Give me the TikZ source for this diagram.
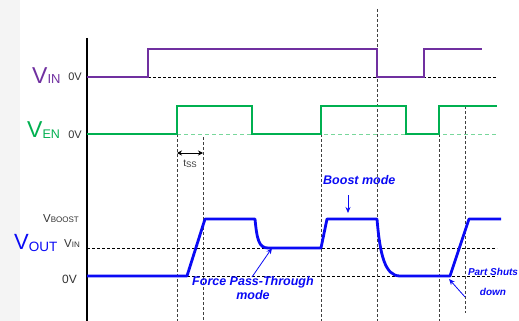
\documentclass[tikz,border=0pt]{standalone}
\usepackage{fontspec}
\setmainfont{Liberation Sans}
\usetikzlibrary{arrows.meta}
\definecolor{vinc}{RGB}{112,48,160}
\definecolor{venc}{RGB}{0,176,80}
\definecolor{venl}{RGB}{120,215,155}
\definecolor{voutc}{RGB}{10,10,245}
\definecolor{txtg}{RGB}{51,51,51}
\definecolor{bgg}{RGB}{244,244,244}
\newcommand{\fsz}[2]{{\fontsize{#1}{#1}\selectfont #2}}
\begin{document}
\begin{tikzpicture}[x=1pt,y=-1pt,
  axisline/.style={line width=2pt,black},
  vinwave/.style={line width=2pt,vinc},
  venwave/.style={line width=2.4pt,venc},
  voutwave/.style={line width=2.8pt,voutc,line join=round},
  hguide/.style={line width=0.8pt,black,dash pattern=on 3pt off 2pt},
  vguide/.style={line width=0.8pt,black!75,dash pattern=on 3pt off 2pt},
  lguide/.style={line width=1pt,venl,dash pattern=on 4pt off 3pt},
  lbl/.style={inner sep=0pt,text=txtg},
  modelbl/.style={inner sep=0pt,text=voutc,font=\fontsize{12.5}{14}\selectfont\bfseries\itshape,align=center},
  callout/.style={line width=0.8pt,voutc,-{Stealth[length=6pt,width=5pt]}}
]
\useasboundingbox (0,0) rectangle (519,321);
\fill[white] (0,0) rectangle (519,321);
\fill[bgg] (0,0) rectangle (20,321);

% guides
\draw[hguide] (148,77) -- (497,77);
\draw[lguide] (177,134) -- (497,134);
\draw[hguide] (87,248) -- (497,248);
\draw[hguide] (87,276) -- (497,276);
\draw[vguide] (177,134) -- (177,321);
\draw[vguide] (203,137) -- (203,321);
\draw[vguide] (321,134) -- (321,321);
\draw[vguide] (377,9) -- (377,321);
\draw[vguide] (439,134) -- (439,321);
\draw[vguide] (465,106) -- (465,313);

% axis
\draw[axisline] (87,38) -- (87,321);

% waveforms
\draw[vinwave] (87,77) -- (148,77) -- (148,49) -- (377,49) -- (377,77) -- (424,77) -- (424,49) -- (482,49);
\draw[venwave] (87,134) -- (177,134) -- (177,106) -- (252,106) -- (252,134) -- (321,134) -- (321,106) -- (406,106) -- (406,134) -- (439,134) -- (439,106) -- (497,106);
\draw[voutwave] (87,276) -- (187,276) -- (205,219) -- (255,219) .. controls (257,240) and (259,248) .. (268,248) -- (321,248) -- (327,219) -- (377,219) .. controls (380,255) and (385,276) .. (400,276) -- (450,276) -- (469,219) -- (501,219);

% tss
\coordinate (tssa) at (177,153);
\coordinate (tssb) at (203,153);
\draw[line width=0.8pt,black,{Stealth[length=5pt,width=5pt]}-{Stealth[length=5pt,width=5pt]}] (tssa) -- (tssb);
\node[lbl,anchor=base] (tss) at (190,166) {\fsz{10}{t}\raisebox{-1.5pt}{\fsz{8}{SS}}};

% signal labels
\node[inner sep=0pt,text=vinc,anchor=base west] (vinl) at (32,83) {\fsz{23}{V}\raisebox{-1pt}{\fsz{13}{IN}}};
\node[inner sep=0pt,text=venc,anchor=base west] (venl) at (27,137) {\fsz{23}{V}\raisebox{-1pt}{\fsz{12.5}{EN}}};
\node[inner sep=0pt,text=voutc,anchor=base west] (voutl) at (14,249) {\fsz{22}{V}\raisebox{-2pt}{\fsz{13.5}{OUT}}};

\node[lbl,anchor=base east] (vin0) at (82,81) {\fsz{11}{0V}};
\node[lbl,anchor=base east] (ven0) at (82,138) {\fsz{11}{0V}};
\node[lbl,anchor=base east] (vboost) at (79,222) {\fsz{11.5}{V}\fsz{8}{BOOST}};
\node[lbl,anchor=base east] (voutvin) at (80,247) {\fsz{11.5}{V}\fsz{8}{IN}};
\node[lbl,anchor=base east] (vout0) at (77,283) {\fsz{12}{0V}};

% mode labels
\node[modelbl,anchor=base west] (boost) at (323,184) {Boost mode};
\coordinate (boosttail) at (348,195);
\coordinate (boosttip) at (348,213);
\draw[callout] (boosttail) -- (boosttip);

\node[modelbl,anchor=base,font=\fontsize{12.5}{14}\selectfont\bfseries\itshape] (fpt) at (253,299) {Force Pass-Through\\mode};
\coordinate (fpttail) at (252,277);
\coordinate (fpttip) at (272,248);
\draw[callout] (fpttail) -- (fpttip);

\node[modelbl,anchor=base,font=\fontsize{10}{20}\selectfont\bfseries\itshape] (shut) at (493,295) {Part Shuts\\down};
\coordinate (shuttail) at (465,297);
\coordinate (shuttip) at (449,279);
\draw[callout] (shuttail) -- (shuttip);
\end{tikzpicture}
\end{document}
